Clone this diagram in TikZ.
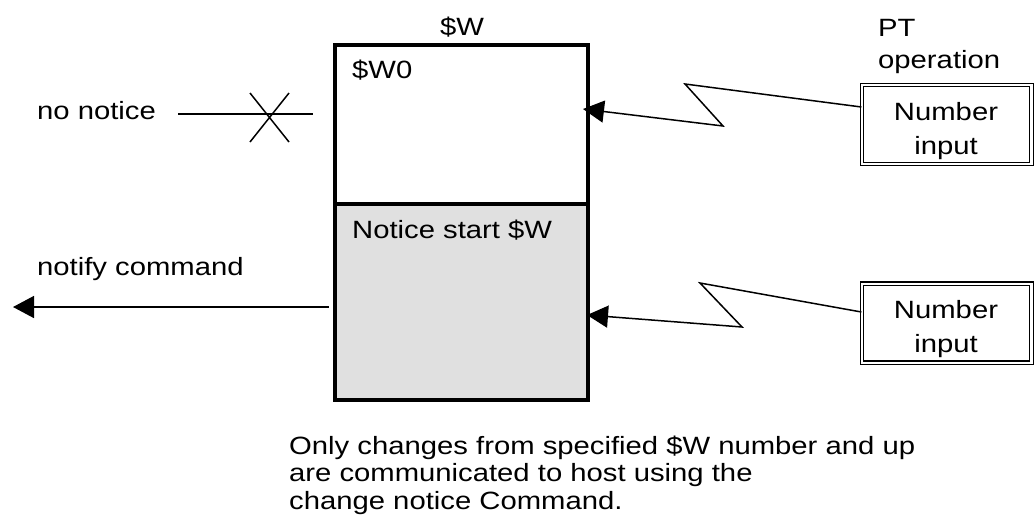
\documentclass[tikz,border=0pt]{standalone}
\usepackage{fontspec}
\setmainfont{Liberation Sans}[FakeStretch=1.17]
\usetikzlibrary{arrows.meta}
\begin{document}
\begin{tikzpicture}[x=1pt,y=-1pt,
  txt/.style={inner sep=0pt, font=\fontsize{25}{27.5}\selectfont},
  wall/.style={draw=black, line width=4.5pt, minimum width=253pt, inner sep=0pt},
  dbox/.style={draw=black, double=white, line width=1.2pt, double distance=2.4pt, minimum width=169.5pt, minimum height=79pt, inner sep=0pt},
  thin/.style={line width=1.5pt},
  arr/.style={thin, -{Triangle[length=21pt,width=22pt]}}]
\useasboundingbox (0,0) rectangle (1034,520);
% main box
\node[wall, fill=white, minimum height=159pt] (w0) at (461.5,124.5) {};
\node[wall, fill={rgb,255:red,224;green,224;blue,224}, minimum height=196pt] (ns) at (461.5,302) {};
\node[txt, anchor=base] (wl) at (462,35) {\$W};
\node[txt, anchor=base west] (w0l) at (352,78) {\$W0};
\node[txt, anchor=base west] (nsl) at (352,238) {Notice start \$W};
% PT operation
\node[txt, anchor=base west] (pt) at (878,36) {PT};
\node[txt, anchor=base west] (op) at (878,68) {operation};
% number input boxes
\node[dbox] (in1) at (946.75,124.5) {};
\node[txt, anchor=base] (in1a) at (946,120) {Number};
\node[txt, anchor=base] (in1b) at (946,154) {input};
\node[dbox] (in2) at (946.75,323.25) {};
\node[txt, anchor=base] (in2a) at (946,318) {Number};
\node[txt, anchor=base] (in2b) at (946,352) {input};
% arrows from inputs
\coordinate (t1) at (583,109);
\coordinate (t2) at (587,315);
\draw[arr] ([yshift=17.5pt]in1.west) -- (685,84) -- (723,126) -- (t1);
\draw[arr] ([yshift=11.25pt]in2.west) -- (700,283) -- (742,327) -- (t2);
% no notice
\node[txt, anchor=base west] (nn) at (37,119) {no notice};
\coordinate (nnA) at (178,114);
\coordinate (nnB) at (313,114);
\draw[thin] (nnA) -- (nnB);
\coordinate (xc) at (269.5,117.5);
\draw[thin] ([xshift=-19.5pt,yshift=24.5pt]xc) -- ([xshift=19.5pt,yshift=-24.5pt]xc)
            ([xshift=19.5pt,yshift=24.5pt]xc) -- ([xshift=-19.5pt,yshift=-24.5pt]xc);
% notify command
\node[txt, anchor=base west] (nc) at (37,275) {notify command};
\coordinate (nt) at (13,307);
\draw[arr] ([xshift=-4pt,yshift=-5pt]ns.west) -- (nt);
% note
\node[txt, anchor=base west, align=left] (note) at (289,509) {Only changes from specified \$W number and up\\are communicated to host using the\\change notice Command.};
\end{tikzpicture}
\end{document}
